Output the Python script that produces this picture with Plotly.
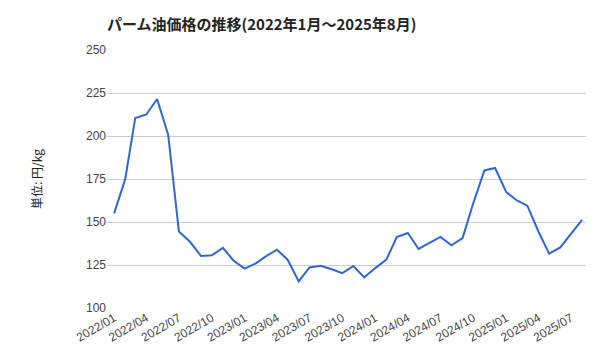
import plotly.graph_objects as go
import pandas as pd

months = pd.date_range("2022-01-01", "2025-08-01", freq="MS")
prices = [155, 175, 210.5, 212.5, 221.5, 200.8, 144.5, 138.5, 130.2, 130.6,
          135, 127.5, 122.9, 126, 130, 133.9, 128.1, 115.5, 123.6, 124.6,
          122.5, 120.3, 124.4, 117.8, 123.2, 128.1, 141.3, 143.6, 134.3, 137.8,
          141.3, 136.4, 140.7, 161, 180, 181.4, 167.4, 162.4, 159.5, 144.5,
          131.6, 135.2, 143.2, 151.3]
tick_dates = pd.date_range("2022-01-01", "2025-07-01", freq="3MS")
tick_labels = [d.strftime("%Y/%m") for d in tick_dates]
y_ticks = [100, 125, 150, 175, 200, 225, 250]

fig = go.Figure()
fig.add_trace(go.Scatter(x=months, y=prices, mode="lines",
                         line=dict(color="#3366CC", width=2), hoverinfo="x+y"))

fig.update_layout(
    width=592, height=352,
    margin=dict(l=99, r=14, t=42, b=52),
    paper_bgcolor="white", plot_bgcolor="white",
    showlegend=False,
    font=dict(family="Liberation Sans, Noto Sans CJK JP", size=12, color="#444"),
    title=dict(text="<b>パーム油価格の推移(2022年1月～2025年8月)</b>",
               x=0, xref="paper", xanchor="left", y=1, yref="container",
               yanchor="top", pad=dict(t=11),
               font=dict(family="Noto Sans CJK JP", size=15, color="#222")),
)
fig.update_xaxes(
    type="date",
    range=["2021-12-12", "2025-08-12"],
    tickvals=tick_dates, ticktext=tick_labels,
    tickangle=-30, showgrid=False, zeroline=False, showline=False,
    ticks="", tickfont=dict(size=12, color="#444"),
)
fig.update_yaxes(
    range=[100, 250], tickvals=y_ticks,
    showgrid=True, gridcolor="#cccccc", gridwidth=1, zeroline=False,
    ticks="", tickfont=dict(size=12, color="#444"),
    title=dict(text="単位: 円/kg", font=dict(family="Noto Sans CJK JP", size=12, color="#222"),
               standoff=40),
)
fig.write_html("out.html")
